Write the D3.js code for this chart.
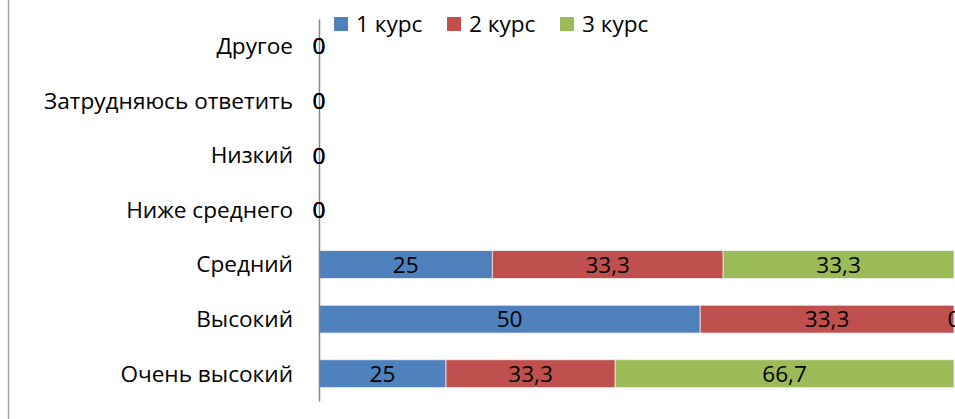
<!DOCTYPE html>
<html>
<head>
<meta charset="utf-8">
<script src="https://cdn.jsdelivr.net/npm/d3@7"></script>
<style>
  html, body { margin: 0; padding: 0; background: #fff; }
  svg { display: block; }
  text { font-family: "Open Sans", Lato, sans-serif; fill: #000; }
</style>
</head>
<body>
<svg id="chart" width="955" height="419"></svg>
<script>
// Categories, top to bottom
const categories = ["Другое", "Затрудняюсь ответить", "Низкий", "Ниже среднего", "Средний", "Высокий", "Очень высокий"];
const seriesNames = ["1 курс", "2 курс", "3 курс"];
const colors = ["#4F81BD", "#C0504D", "#9BBB59"];
// Values per course, in category order
const course1 = [0, 0, 0, 0, 25, 50, 25];
const course2 = [0, 0, 0, 0, 33.3, 33.3, 33.3];
const course3 = [0, 0, 0, 0, 33.3, 0, 66.7];
const seriesValues = [course1, course2, course3];

const FS = 22.6;
const svg = d3.select("#chart");
const W = 955, H = 419;

// Chart frame line on the left
svg.append("line")
  .attr("x1", 8.5).attr("x2", 8.5).attr("y1", 0).attr("y2", H)
  .attr("stroke", "#a6a6a6").attr("stroke-width", 1.5);

// Each bar is shown as a share of its row total (100% stacked)
const x = d3.scaleLinear().domain([0, 100]).range([319, 954]);
const y = d3.scaleBand().domain(categories).range([19, 401])
  .paddingInner(0.49).paddingOuter(0.245);

const rows = categories.map((c, i) => {
  const vals = seriesValues.map(s => s[i]);
  const total = d3.sum(vals);
  let acc = 0;
  return vals.map((v, k) => {
    const share = total > 0 ? v / total * 100 : 0;
    const seg = { cat: c, k, value: v, x0: acc, x1: acc + share };
    acc += share;
    return seg;
  });
});
const segs = rows.flat();

const fmt = v => d3.format(".1~f")(v).replace(".", ",");

svg.append("g").selectAll("rect")
  .data(segs.filter(d => d.x1 > d.x0))
  .join("rect")
  .attr("x", d => x(d.x0))
  .attr("y", d => y(d.cat))
  .attr("width", d => x(d.x1) - x(d.x0))
  .attr("height", y.bandwidth())
  .attr("fill", d => colors[d.k])
  .attr("stroke", "#f2f2f2")
  .attr("stroke-width", 0.75);

// Category axis
const yAxis = d3.axisLeft(y).tickSize(0).tickPadding(26);
const ga = svg.append("g").attr("transform", "translate(319,0)").call(yAxis);
ga.select(".domain").attr("stroke", "#868686").attr("stroke-width", 1.5);
ga.selectAll("text").attr("font-size", FS).attr("font-family", "'Open Sans', sans-serif")
  .attr("dy", "0.35em");

// Value labels in the middle of each segment
svg.append("g").selectAll("text")
  .data(segs)
  .join("text")
  .attr("x", d => x((d.x0 + d.x1) / 2))
  .attr("y", d => y(d.cat) + y.bandwidth() / 2)
  .attr("dy", "0.36em")
  .attr("text-anchor", "middle")
  .attr("font-size", FS)
  .text(d => fmt(d.value));

// Legend
const lg = svg.append("g");
const legendX = [334, 447, 560];
seriesNames.forEach((n, i) => {
  lg.append("rect").attr("x", legendX[i]).attr("y", 17).attr("width", 14).attr("height", 14)
    .attr("fill", colors[i]);
  lg.append("text").attr("x", legendX[i] + 22).attr("y", 24).attr("dy", "0.36em")
    .attr("font-size", FS).text(n);
});
</script>
</body>
</html>
